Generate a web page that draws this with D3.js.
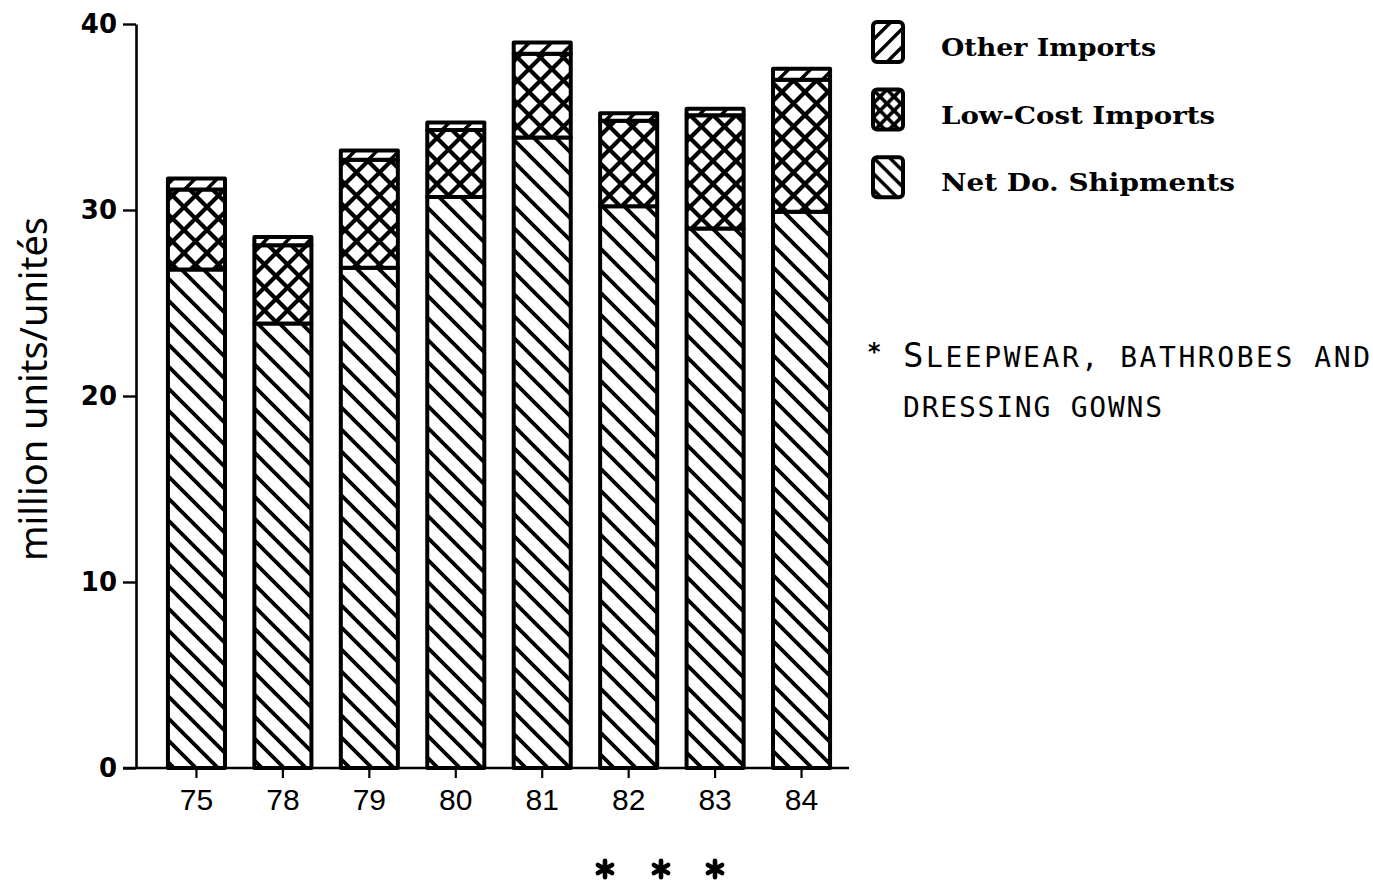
<!DOCTYPE html>
<html>
<head>
<meta charset="utf-8">
<script src="https://cdn.jsdelivr.net/npm/d3@7"></script>
<style>
  html, body { margin: 0; padding: 0; background: #fff; }
  svg { display: block; }
</style>
</head>
<body>
<svg id="chart" width="1373" height="881"></svg>
<script>
// Apparent consumption of sleepwear, bathrobes and dressing gowns (million units)
const years = ["75", "78", "79", "80", "81", "82", "83", "84"];
const netDomestic    = [26.8, 23.9, 26.9, 30.7, 33.9, 30.2, 29.0, 29.9];
const lowCostImports = [4.3, 4.2, 5.8, 3.6, 4.5, 4.6, 6.1, 7.1];
const otherImports   = [0.6, 0.45, 0.5, 0.4, 0.6, 0.4, 0.35, 0.6];
const yTicks = [0, 10, 20, 30, 40];
const legendLabels = ["Other Imports", "Low-Cost Imports", "Net Do. Shipments"];
const legendKeys = ["other", "low", "net"];
const yTitle = "million units/unités";
const noteLines = ["SLEEPWEAR, BATHROBES AND", "DRESSING GOWNS"];

const svg = d3.select("#chart");
const defs = svg.append("defs");

// Hatch patterns: "\" for domestic, cross-hatch for low-cost, "/" for other imports
function hatch(id, size, kind, width) {
  const p = defs.append("pattern")
    .attr("id", id)
    .attr("patternUnits", "userSpaceOnUse")
    .attr("width", size).attr("height", size);
  p.append("rect").attr("width", size).attr("height", size).attr("fill", "#fff");
  const s = size, e = 6;
  const back = `M0,0L${s},${s}M${-e},${s - e}L${e},${s + e}M${s - e},${-e}L${s + e},${e}`;
  const fwd = `M0,${s}L${s},0M${-e},${e}L${e},${-e}M${s - e},${s + e}L${s + e},${s - e}`;
  const d = kind === "back" ? back : kind === "fwd" ? fwd : back + fwd;
  p.append("path").attr("d", d)
    .attr("stroke", "#000").attr("stroke-width", width).attr("fill", "none");
}
hatch("hatch-net", 22, "back", 3.8);
hatch("hatch-low", 23, "cross", 4.2);
hatch("hatch-other", 22, "fwd", 3.4);
hatch("key-net", 16, "back", 3.4);
hatch("key-low", 14, "cross", 3.6);
hatch("key-other", 18, "fwd", 3.4);

const barFill = { net: "url(#hatch-net)", low: "url(#hatch-low)", other: "url(#hatch-other)" };
const keyFill = { net: "url(#key-net)", low: "url(#key-low)", other: "url(#key-other)" };

const axisX = 136;
const y = d3.scaleLinear().domain([0, 40]).range([768, 24]);
const x = d3.scaleBand().domain(years).range([142, 856]).paddingInner(0.34).paddingOuter(0.3);

const rows = years.map((yr, i) => ({
  year: yr, net: netDomestic[i], low: lowCostImports[i], other: otherImports[i]
}));
const stacked = d3.stack().keys(["net", "low", "other"])(rows);

// Stacked bars
svg.append("g")
  .selectAll("g")
  .data(stacked)
  .join("g")
  .attr("fill", d => barFill[d.key])
  .selectAll("rect")
  .data(d => d)
  .join("rect")
  .attr("x", d => x(d.data.year))
  .attr("width", x.bandwidth())
  .attr("y", d => y(d[1]))
  .attr("height", d => y(d[0]) - y(d[1]))
  .attr("stroke", "#000")
  .attr("stroke-width", 4)
  .attr("stroke-linejoin", "round");

// Y axis
const gy = svg.append("g")
  .attr("transform", `translate(${axisX},0)`)
  .call(d3.axisLeft(y).tickValues(yTicks).tickSize(13).tickSizeOuter(0).tickPadding(6));
gy.select(".domain").attr("stroke", "#000").attr("stroke-width", 2.6);
gy.selectAll(".tick line").attr("stroke", "#000").attr("stroke-width", 2.4);
gy.selectAll(".tick text")
  .attr("fill", "#000")
  .style("font-family", "'DejaVu Sans', sans-serif")
  .style("font-weight", "bold")
  .style("font-size", "26px");

// X axis
const gx = svg.append("g")
  .attr("transform", `translate(0,${y(0)})`)
  .call(d3.axisBottom(x).tickSize(10).tickPadding(11));
gx.select(".domain").remove();
gx.append("line")
  .attr("x1", 123).attr("x2", 849)
  .attr("stroke", "#000").attr("stroke-width", 2.6);
gx.selectAll(".tick line").attr("stroke", "#000").attr("stroke-width", 2.2);
gx.selectAll(".tick text")
  .attr("fill", "#000")
  .style("font-family", "'Liberation Sans', Arial, sans-serif")
  .style("font-size", "30px");

// Y axis title
svg.append("text")
  .attr("transform", "translate(47,389) rotate(-90)")
  .attr("text-anchor", "middle")
  .style("font-family", "'Noto Sans', sans-serif")
  .style("font-size", "38px")
  .attr("fill", "#000")
  .text(yTitle);

// Legend
const legendWidths = [215, 274, 294];
const legend = svg.append("g")
  .selectAll("g")
  .data(legendKeys)
  .join("g")
  .attr("transform", (d, i) => `translate(873,${22 + i * 67.6})`);
legend.append("rect")
  .attr("width", 30).attr("height", 40).attr("rx", 4)
  .attr("fill", d => keyFill[d])
  .attr("stroke", "#000").attr("stroke-width", 4);
legend.append("text")
  .attr("x", 68).attr("y", 34)
  .attr("textLength", (d, i) => legendWidths[i])
  .attr("lengthAdjust", "spacingAndGlyphs")
  .style("font-family", "'DejaVu Serif', serif")
  .style("font-weight", "bold")
  .style("font-size", "24px")
  .attr("fill", "#000")
  .text((d, i) => legendLabels[i]);

// Product note
svg.append("text")
  .attr("x", 867).attr("y", 360)
  .style("font-family", "'DejaVu Sans Mono', monospace")
  .style("font-weight", "bold")
  .style("font-size", "24px")
  .attr("fill", "#000")
  .text("*");
const note1 = svg.append("text")
  .attr("x", 903).attr("y", 367)
  .attr("textLength", 467).attr("lengthAdjust", "spacing")
  .style("font-family", "'DejaVu Sans Mono', monospace")
  .style("font-size", "28px")
  .attr("fill", "#000");
note1.append("tspan").style("font-size", "34px").text(noteLines[0].slice(0, 1));
note1.append("tspan").text(noteLines[0].slice(1));
svg.append("text")
  .attr("x", 903).attr("y", 417)
  .attr("textLength", 259).attr("lengthAdjust", "spacing")
  .style("font-family", "'DejaVu Sans Mono', monospace")
  .style("font-size", "28px")
  .attr("fill", "#000")
  .text(noteLines[1]);

// Closing asterisks under the chart
const star = d3.symbol(d3.symbolAsterisk, 190);
svg.append("g")
  .selectAll("path")
  .data([605, 661, 715])
  .join("path")
  .attr("transform", d => `translate(${d},869)`)
  .attr("d", star)
  .attr("fill", "none")
  .attr("stroke", "#000")
  .attr("stroke-width", 4.6)
  .attr("stroke-linecap", "round");
</script>
</body>
</html>
